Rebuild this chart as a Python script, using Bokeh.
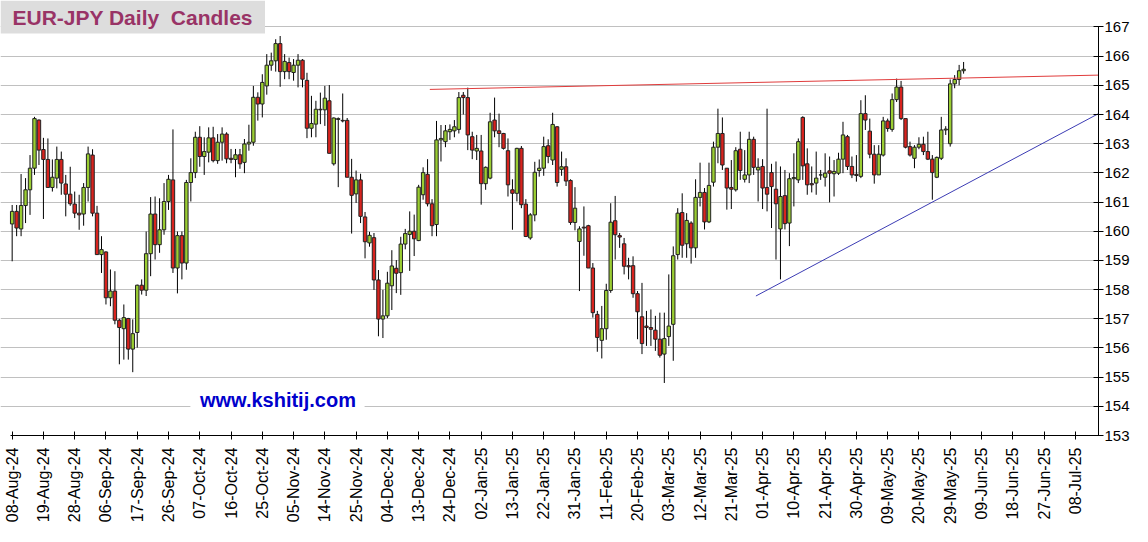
import math
from bokeh.plotting import figure
from bokeh.models import FixedTicker, Range1d
from bokeh.embed import file_html
from bokeh.resources import INLINE
from bokeh.core.properties import value

# ---------------- data ----------------
tick_labels = ["08-Aug-24", "19-Aug-24", "28-Aug-24", "06-Sep-24", "17-Sep-24", "26-Sep-24",
               "07-Oct-24", "16-Oct-24", "25-Oct-24", "05-Nov-24", "14-Nov-24", "25-Nov-24",
               "04-Dec-24", "13-Dec-24", "24-Dec-24", "02-Jan-25", "13-Jan-25", "22-Jan-25",
               "31-Jan-25", "11-Feb-25", "20-Feb-25", "03-Mar-25", "12-Mar-25", "21-Mar-25",
               "01-Apr-25", "10-Apr-25", "21-Apr-25", "30-Apr-25", "09-May-25", "20-May-25",
               "29-May-25", "09-Jun-25", "18-Jun-25", "27-Jun-25", "08-Jul-25"]
days_per_tick = 7
price_ticks = list(range(153, 168))

opens = [160.25, 160.68, 160.08, 160.88, 161.42, 162.16, 163.81, 162.80, 162.46, 161.50,
         161.82, 162.46, 161.62, 161.27, 160.93, 160.62, 160.59, 161.50, 162.61, 160.62,
         159.20, 159.29, 157.72, 157.95, 156.95, 156.66, 157.01, 155.96, 156.53, 158.15,
         157.98, 159.23, 160.59, 159.54, 160.05, 161.02, 161.76, 158.74, 159.85, 158.91,
         161.67, 162.01, 163.22, 162.56, 162.71, 163.20, 162.42, 163.05, 163.33, 162.50,
         162.46, 162.62, 162.36, 162.99, 163.05, 164.59, 164.36, 164.98, 165.69, 165.84,
         166.43, 165.47, 165.78, 165.44, 165.69, 165.86, 165.17, 163.53, 163.67, 164.18,
         164.16, 164.47, 162.31, 163.83, 163.80, 163.80, 161.85, 161.28, 161.76, 160.49,
         159.60, 159.78, 158.33, 156.99, 157.10, 158.13, 158.73, 158.58, 159.56, 159.89,
         160.00, 159.68, 161.25, 161.95, 160.94, 160.23, 163.13, 163.07, 163.41, 163.44,
         163.49, 164.66, 164.58, 163.24, 162.75, 162.75, 161.63, 161.82, 163.81, 163.44,
         163.35, 162.76, 161.42, 161.30, 162.84, 160.93, 159.77, 160.56, 162.08, 162.16,
         162.93, 162.44, 163.58, 162.12, 162.21, 161.74, 160.30, 159.65, 160.14, 160.19,
         158.74, 157.15, 156.26, 156.66, 157.97, 160.36, 159.85, 159.57, 158.82, 158.82,
         157.86, 157.07, 156.75, 156.70, 156.61, 156.30, 155.79, 156.39, 156.81, 159.20,
         160.64, 159.57, 160.28, 159.43, 161.16, 161.33, 160.32, 161.68, 162.88, 163.35,
         162.16, 161.50, 161.42, 162.81, 161.78, 161.93, 163.15, 162.10, 162.22, 161.50,
         162.01, 161.44, 160.08, 161.22, 160.28, 161.80, 161.76, 163.90, 162.31, 161.63,
         161.65, 161.93, 161.85, 162.07, 161.97, 161.99, 162.47, 163.24, 162.22, 161.95,
         161.88, 164.03, 163.43, 162.64, 161.93, 162.61, 163.78, 163.49, 164.51, 164.94,
         163.86, 162.90, 162.50, 162.88, 162.98, 162.73, 162.47, 161.85, 162.50, 163.47,
         163.00, 165.05, 165.20, 165.50]
highs = [160.90, 160.90, 161.96, 161.82, 162.61, 163.92, 163.83, 163.20, 163.18, 162.46,
         162.90, 162.73, 161.93, 162.21, 161.36, 161.25, 161.65, 162.90, 162.81, 160.87,
         159.83, 159.31, 158.69, 158.63, 157.00, 157.49, 157.03, 156.98, 158.17, 158.35,
         159.99, 161.17, 161.19, 161.13, 161.65, 161.93, 163.49, 159.99, 159.99, 161.76,
         162.50, 163.41, 163.60, 163.22, 163.56, 163.58, 163.33, 163.56, 163.39, 162.82,
         162.82, 162.82, 163.16, 163.65, 164.98, 164.76, 165.38, 166.07, 166.12, 166.58,
         166.69, 166.07, 165.95, 165.90, 166.07, 165.90, 165.43, 164.64, 164.47, 164.75,
         164.98, 165.01, 163.90, 163.90, 164.72, 163.88, 162.48, 162.08, 161.97, 160.66,
         159.98, 159.94, 158.67, 157.99, 158.61, 159.35, 159.01, 159.81, 160.08, 160.68,
         160.57, 161.59, 162.19, 162.47, 161.10, 163.78, 163.64, 163.64, 163.66, 163.81,
         164.77, 164.77, 164.92, 163.41, 163.30, 163.30, 162.22, 164.06, 164.58, 164.03,
         163.37, 163.18, 161.78, 162.86, 162.92, 161.10, 160.62, 162.38, 162.46, 163.24,
         163.15, 164.06, 163.60, 162.73, 162.50, 161.78, 161.51, 160.17, 160.85, 160.22,
         158.91, 157.27, 157.44, 158.20, 160.96, 161.21, 159.94, 159.77, 159.09, 159.14,
         157.95, 158.23, 157.27, 157.32, 157.10, 157.21, 157.21, 158.52, 159.48, 160.79,
         161.30, 160.62, 160.34, 161.78, 162.35, 161.48, 162.35, 163.07, 164.20, 163.90,
         162.16, 162.44, 162.88, 163.41, 162.78, 163.41, 163.24, 162.50, 162.47, 164.20,
         162.31, 162.39, 162.22, 162.10, 161.99, 162.67, 163.18, 163.94, 162.84, 162.22,
         162.73, 162.10, 162.67, 162.56, 162.44, 162.69, 163.75, 163.30, 162.56, 162.61,
         164.49, 164.66, 163.86, 162.95, 162.95, 163.92, 163.86, 164.72, 165.23, 165.15,
         163.86, 163.07, 162.95, 163.22, 163.24, 163.41, 162.61, 162.56, 163.92, 163.60,
         165.20, 165.35, 165.70, 165.80]
lows = [158.97, 159.83, 159.83, 160.28, 160.56, 161.93, 162.27, 160.42, 161.50, 161.36,
        161.47, 161.25, 160.51, 160.87, 160.45, 160.05, 160.19, 161.02, 160.51, 159.20,
        158.57, 157.49, 157.43, 156.81, 155.44, 155.60, 155.60, 155.17, 156.01, 157.83,
        157.78, 158.46, 159.03, 159.26, 159.88, 160.73, 158.57, 157.87, 158.35, 158.68,
        161.02, 161.82, 162.21, 161.93, 162.36, 162.36, 162.31, 162.42, 162.33, 162.33,
        161.85, 162.14, 161.99, 162.76, 162.93, 163.79, 163.90, 164.68, 165.50, 165.47,
        164.95, 165.21, 165.21, 165.16, 164.93, 164.93, 163.19, 163.22, 163.22, 163.67,
        163.61, 162.67, 162.25, 161.51, 163.73, 161.85, 159.92, 160.97, 160.28, 159.07,
        159.47, 157.99, 156.40, 156.34, 157.02, 157.30, 157.88, 157.82, 159.38, 158.64,
        159.15, 159.66, 161.08, 160.85, 159.83, 159.83, 162.39, 162.88, 163.13, 163.22,
        163.35, 164.00, 162.78, 162.47, 162.44, 160.91, 161.42, 161.78, 163.22, 162.88,
        162.80, 161.19, 160.05, 161.02, 160.79, 159.80, 159.71, 160.34, 161.87, 161.90,
        162.33, 162.27, 161.53, 161.90, 161.55, 160.22, 160.03, 157.95, 159.16, 158.74,
        157.04, 155.87, 155.64, 156.28, 157.89, 159.03, 159.43, 158.52, 158.35, 157.72,
        156.30, 155.79, 156.07, 156.07, 155.90, 155.67, 154.80, 156.07, 155.56, 159.03,
        159.09, 159.09, 158.89, 159.09, 160.85, 160.06, 160.28, 161.53, 162.33, 162.10,
        160.74, 160.76, 161.36, 161.76, 161.67, 161.65, 161.93, 161.02, 160.76, 160.68,
        160.11, 159.03, 158.35, 160.06, 159.49, 160.85, 161.65, 161.76, 161.25, 161.33,
        161.25, 161.76, 161.53, 160.99, 161.19, 161.93, 161.99, 162.10, 161.82, 161.70,
        161.82, 163.47, 162.50, 161.63, 161.93, 162.56, 163.41, 163.41, 164.43, 163.81,
        162.84, 162.56, 162.16, 162.81, 162.61, 162.44, 161.08, 161.82, 162.44, 163.30,
        162.90, 164.90, 165.00, 165.40]
closes = [160.68, 160.11, 160.88, 161.42, 162.16, 163.86, 162.78, 162.46, 161.50, 161.85,
          162.46, 161.65, 161.27, 160.94, 160.62, 160.56, 161.50, 162.65, 160.62, 159.20,
          159.37, 157.72, 157.95, 156.95, 156.70, 157.04, 155.96, 156.49, 158.15, 157.98,
          159.23, 160.59, 159.54, 160.05, 161.02, 161.78, 158.74, 159.85, 158.91, 161.67,
          162.01, 163.22, 162.56, 162.73, 163.20, 162.42, 163.05, 163.33, 162.48, 162.46,
          162.62, 162.31, 162.99, 163.05, 164.59, 164.36, 165.10, 165.69, 165.84, 166.43,
          165.47, 165.82, 165.47, 165.69, 165.86, 165.21, 163.53, 163.69, 164.18, 164.16,
          164.56, 162.67, 163.88, 163.86, 163.78, 161.85, 161.23, 161.76, 160.51, 159.64,
          159.86, 158.33, 156.99, 157.10, 158.22, 158.81, 158.56, 159.56, 159.92, 160.00,
          159.74, 161.51, 162.01, 160.94, 160.19, 163.13, 163.18, 163.44, 163.49, 163.58,
          164.58, 164.58, 163.30, 162.78, 162.84, 161.63, 162.19, 163.75, 163.44, 163.35,
          162.84, 161.59, 161.30, 162.84, 160.91, 159.82, 160.56, 162.02, 162.16, 162.90,
          162.56, 163.66, 161.67, 162.21, 161.72, 160.30, 160.79, 160.08, 160.11, 158.74,
          157.21, 156.36, 156.66, 157.97, 160.31, 159.88, 159.80, 158.80, 158.78, 157.86,
          157.24, 156.15, 156.70, 156.64, 156.30, 155.75, 156.32, 156.75, 159.16, 160.62,
          159.52, 160.37, 159.43, 161.16, 161.33, 160.32, 161.57, 162.88, 163.35, 162.27,
          161.48, 161.44, 162.76, 162.08, 161.93, 163.15, 162.19, 162.19, 161.48, 161.27,
          161.53, 160.94, 161.19, 160.26, 161.80, 161.84, 163.07, 162.24, 161.59, 161.59,
          161.82, 161.93, 161.99, 161.99, 162.05, 162.47, 163.30, 162.22, 161.93, 161.91,
          164.03, 163.81, 162.64, 161.93, 162.64, 163.78, 163.52, 164.51, 164.94, 163.86,
          162.88, 162.61, 162.88, 162.98, 162.73, 162.47, 162.01, 162.53, 163.47, 163.50,
          165.05, 165.20, 165.50, 165.55]

# trend lines (day index, price)
resist_x = [93.5, 243.2]
resist_y = [164.86, 165.35]
support_x = [166.5, 243.2]
support_y = [157.78, 164.03]

title_text = "EUR-JPY Daily\u00a0 Candles"
site_text = "www.kshitij.com"

# ---------------- figure ----------------
X0, X1 = -2.61, 243.2
Y0, Y1 = 153.0, 167.907

p = figure(width=1132, height=526, output_backend="svg", toolbar_location=None,
           x_range=Range1d(X0, X1), y_range=Range1d(Y0, Y1),
           y_axis_location="right",
           min_border_left=0, min_border_top=0, min_border_right=32, min_border_bottom=91,
           background_fill_color="white", border_fill_color="white")
p.outline_line_color = None

FONT = "Liberation Sans"

# x axis
p.xaxis.ticker = FixedTicker(ticks=[i * days_per_tick for i in range(len(tick_labels))])
p.xaxis.major_label_overrides = {i * days_per_tick: t for i, t in enumerate(tick_labels)}
p.xaxis.major_label_orientation = math.pi / 2
p.xaxis.major_label_text_font = FONT
p.xaxis.major_label_text_font_size = "16px"
p.xaxis.major_label_text_color = "black"
p.xaxis.major_label_standoff = 8
p.xaxis.major_tick_in = 4
p.xaxis.major_tick_out = 4
p.xaxis.minor_tick_line_color = None
p.xaxis.axis_line_color = "black"
p.xaxis.major_tick_line_color = "black"
p.xaxis.bounds = (-0.37, X1)

# y axis
p.yaxis.ticker = FixedTicker(ticks=price_ticks)
p.yaxis.major_label_text_font = FONT
p.yaxis.major_label_text_font_size = "15px"
p.yaxis.major_label_text_color = "black"
p.yaxis.major_label_standoff = 1
p.yaxis.major_tick_in = 5
p.yaxis.major_tick_out = 5
p.yaxis.minor_tick_line_color = None
p.yaxis.axis_line_color = "black"
p.yaxis.major_tick_line_color = "black"
p.yaxis.bounds = (153, 167)

p.xgrid.visible = False
p.ygrid.grid_line_color = "#c0c0c0"
p.ygrid.grid_line_width = 1

# candles
n = len(opens)
idx = list(range(n))
tops = [max(o, c) for o, c in zip(opens, closes)]
bots = [min(o, c) for o, c in zip(opens, closes)]
cols = ["#9ACD32" if c >= o else "#D8231E" for o, c in zip(opens, closes)]

p.segment(x0=idx, y0=lows, x1=idx, y1=highs, line_color="black", line_width=1)
p.vbar(x=idx, width=0.76, top=tops, bottom=bots, fill_color=cols,
       line_color="#222222", line_width=1)

# trend lines
p.line(resist_x, resist_y, line_color="#E03C3C", line_width=1)
p.line(support_x, support_y, line_color="#3C3CB4", line_width=1)

# website label with white backing
p.quad(left=[39.9], right=[78.9], bottom=[153.86], top=[154.58],
       fill_color="white", line_color=None)
p.text(x=[59.5], y=[154.23], text=[site_text], text_align="center", text_baseline="middle",
       text_font=value(FONT), text_font_style="bold", text_font_size="20px",
       text_color="#0000CC")

# title with grey backing
p.quad(left=[X0], right=[56.6], bottom=[166.78], top=[Y1],
       fill_color="#DDDDDD", line_color=None)
p.text(x=[0.07], y=[167.31], text=[title_text], text_align="left", text_baseline="middle",
       text_font=value(FONT), text_font_style="bold", text_font_size="21px",
       text_color="#993366")

open("out.html", "w").write(file_html(p, INLINE))
